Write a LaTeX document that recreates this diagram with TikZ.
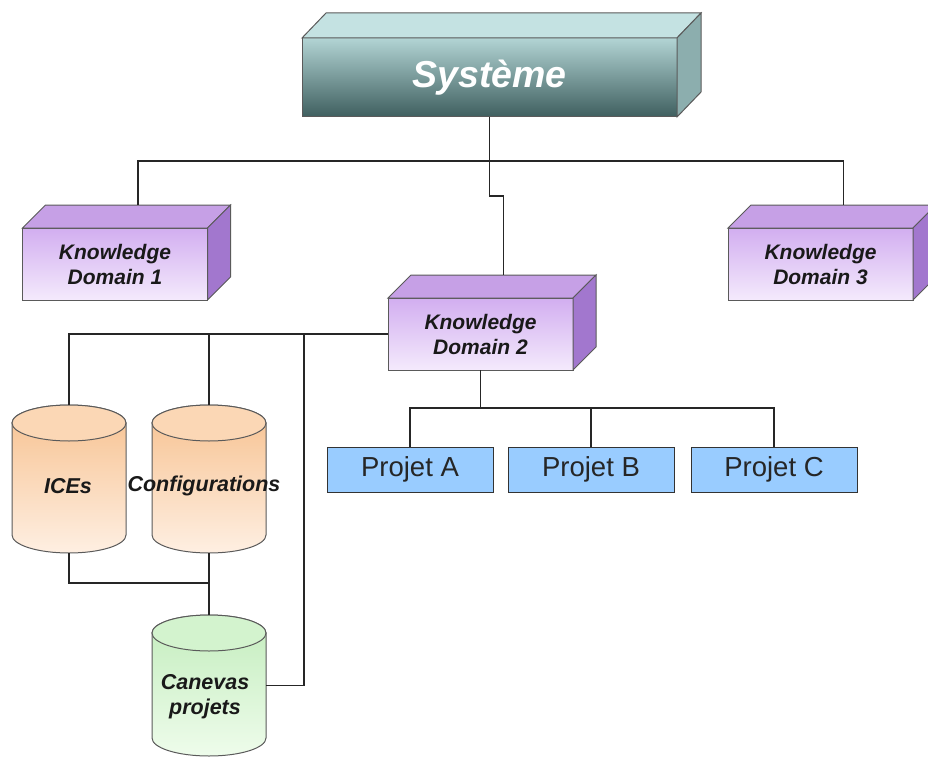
\documentclass[tikz,border=0pt]{standalone}
\usepackage{fontspec}
\setmainfont{Liberation Sans}
\definecolor{sysTop}{HTML}{C4E2E2}
\definecolor{sysA}{HTML}{B2D4D4}
\definecolor{sysB}{HTML}{3F5F5F}
\definecolor{sysRight}{HTML}{8CAEAE}
\definecolor{kdTop}{HTML}{C6A0E6}
\definecolor{kdA}{HTML}{D2AEF0}
\definecolor{kdB}{HTML}{F4EAFC}
\definecolor{kdRight}{HTML}{A277CE}
\definecolor{orA}{HTML}{F7C18F}
\definecolor{orB}{HTML}{FEEFE2}
\definecolor{orLid}{HTML}{FBD7B5}
\definecolor{grA}{HTML}{C3EDBD}
\definecolor{grB}{HTML}{EEFCEB}
\definecolor{grLid}{HTML}{D3F3CE}
\definecolor{prj}{HTML}{99CCFF}
\definecolor{edge}{HTML}{5A5A5A}
\tikzset{
  conn/.style={draw=black!85, line width=1.1pt},
  boxfront/.style={draw=edge, line width=1pt, inner sep=0pt, outer sep=0pt, align=center},
  kdbox/.style={boxfront, minimum width=185pt, minimum height=72pt, top color=kdA, bottom color=kdB,
     font=\fontsize{21}{25}\selectfont\bfseries\itshape, text=black!90},
  sysbox/.style={boxfront, minimum width=375pt, minimum height=79pt, top color=sysA, bottom color=sysB,
     font=\fontsize{37.5}{40}\selectfont\bfseries\itshape, text=white},
  prjbox/.style={draw=black!80, line width=1pt, fill=prj, minimum width=166pt, minimum height=45pt,
     inner sep=0pt, outer sep=0pt, font=\fontsize{27.5}{30}\selectfont, text=black!85},
  cylslot/.style={minimum width=114pt, inner sep=0pt, outer sep=0pt},
  cyltext/.style={inner sep=0pt, align=center, font=\fontsize{21.5}{25}\selectfont\bfseries\itshape, text=black!90},
  face/.style={draw=edge, line width=1pt}
}
\newcommand\depthfaces[5]{%
  \filldraw[face, fill=#4] (#1.north west) -- ([shift={(#2,#3)}]#1.north west)
    -- ([shift={(#2,#3)}]#1.north east) -- (#1.north east) -- cycle;
  \filldraw[face, fill=#5] (#1.north east) -- ([shift={(#2,#3)}]#1.north east)
    -- ([shift={(#2,#3)}]#1.south east) -- (#1.south east) -- cycle;
}
\newcommand\cyldraw[4]{%
  \shadedraw[face, top color=#2, bottom color=#3]
    ([yshift=-18pt]#1.north west) -- ([yshift=18pt]#1.south west)
    arc[start angle=180, end angle=360, x radius=57pt, y radius=18pt]
    -- ([yshift=-18pt]#1.north east)
    arc[start angle=0, end angle=180, x radius=57pt, y radius=18pt] -- cycle;
  \filldraw[face, fill=#4] ([yshift=-18pt]#1.north) ellipse[x radius=57pt, y radius=18pt];
}
\begin{document}
\begin{tikzpicture}[x=1pt, y=-1pt]
\useasboundingbox (0,0) rectangle (928,757);

% --- boxes ---
\node[sysbox] (sys) at (489.5,77.5) {Système};
\depthfaces{sys}{24}{-25}{sysTop}{sysRight}

\node[kdbox] (kd1) at (115,264) {Knowledge\\Domain 1};
\depthfaces{kd1}{23}{-23}{kdTop}{kdRight}
\node[kdbox] (kd3) at (820.5,264) {Knowledge\\Domain 3};
\depthfaces{kd3}{23}{-23}{kdTop}{kdRight}
\node[kdbox] (kd2) at (480.5,334) {Knowledge\\Domain 2};
\depthfaces{kd2}{23}{-23}{kdTop}{kdRight}

\coordinate (kd1t) at ([shift={(23,-23)}]kd1.north);
\coordinate (kd2t) at ([shift={(23,-23)}]kd2.north);
\coordinate (kd3t) at ([shift={(23,-23)}]kd3.north);

\node[prjbox] (pja) at (410,469.5) {Projet A};
\node[prjbox] (pjb) at (591,469.5) {Projet B};
\node[prjbox] (pjc) at (774,469.5) {Projet C};

% --- cylinders ---
\node[cylslot, minimum height=148pt] (ices) at (69,479) {};
\cyldraw{ices}{orA}{orB}{orLid}
\node[cylslot, minimum height=148pt] (conf) at (209,479) {};
\cyldraw{conf}{orA}{orB}{orLid}
\node[cylslot, minimum height=141pt] (canv) at (209,685.5) {};
\cyldraw{canv}{grA}{grB}{grLid}

\node[cyltext] (icest) at (68,486) {ICEs};
\node[cyltext] (conft) at (204,486) {Configurations};
\node[cyltext] (canvt) at (205,697) {Canevas\\projets};

% --- connectors ---
\draw[conn] (sys.south) -- ++(0,79) -| (kd2t);
\draw[conn] (kd1t) -- ++(0,-44) -| (kd3t);

\draw[conn] (kd2.west) -| (ices.north);
\draw[conn] (kd2.west -| conf.north) -- (conf.north);
\draw[conn] ([xshift=-84pt]kd2.west) |- (canv.east);
\draw[conn] (ices.south) -- ++(0,30) coordinate (mj) -- (mj -| conf.south);
\draw[conn] (conf.south) -- (canv.north);

\draw[conn] (kd2.south) -- ++(0,38) coordinate (bus2);
\draw[conn] (pja.north) -- (pja.north |- bus2) -- (pjc.north |- bus2) -- (pjc.north);
\draw[conn] (pjb.north |- bus2) -- (pjb.north);
\end{tikzpicture}
\end{document}
